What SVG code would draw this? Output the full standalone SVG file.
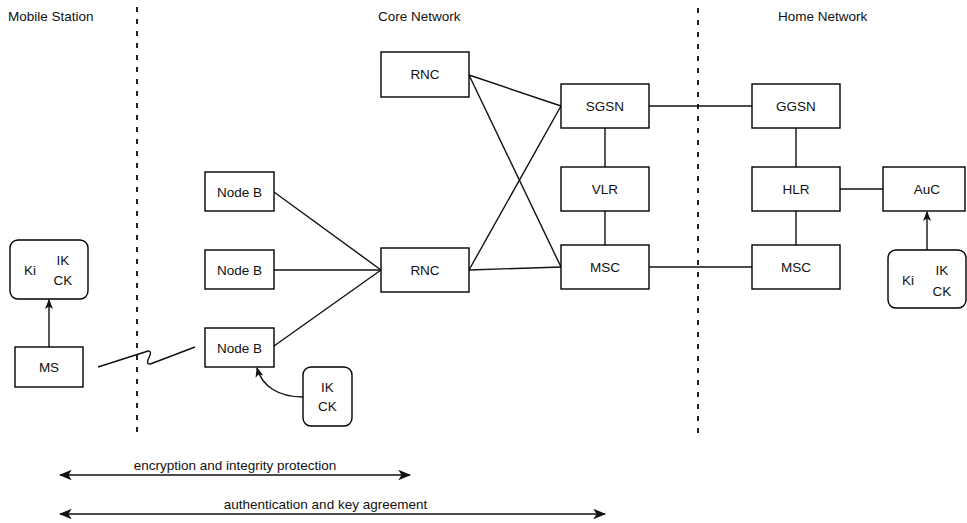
<svg xmlns="http://www.w3.org/2000/svg" width="967" height="523" viewBox="0 0 967 523">
<style>
.box{fill:#fff;stroke:#000;stroke-width:1.4}
.key{fill:#fff;stroke:#000;stroke-width:1.4}
.t{font-family:"Liberation Sans",Arial,sans-serif;font-size:13.5px;fill:#111;text-anchor:middle}
.lbl{font-family:"Liberation Sans",Arial,sans-serif;font-size:13.5px;fill:#111}
.bl{font-family:"Liberation Sans",Arial,sans-serif;font-size:13.5px;fill:#111;text-anchor:middle}
.ln{fill:none;stroke:#111;stroke-width:1.4}
.dash{fill:none;stroke:#222;stroke-width:2;stroke-dasharray:5 7}
</style>
<defs>
<marker id="ah" viewBox="0 0 10 10" refX="9" refY="5" markerWidth="10" markerHeight="10" markerUnits="userSpaceOnUse" orient="auto-start-reverse">
<path d="M0,1 L10,5 L0,9 L2.5,5 Z" fill="#111"/>
</marker>
<marker id="ah2" viewBox="0 0 10 10" refX="9" refY="5" markerWidth="13" markerHeight="13" markerUnits="userSpaceOnUse" orient="auto-start-reverse">
<path d="M0,1 L10,5 L0,9 L2.5,5 Z" fill="#111"/>
</marker>
</defs>
<rect width="967" height="523" fill="#fff"/>
<g id="regions">
<text class="lbl" x="8" y="21">Mobile Station</text>
<text class="lbl" x="378" y="21">Core Network</text>
<text class="lbl" x="778" y="21">Home Network</text>
<line class="dash" x1="137" y1="7" x2="137" y2="435"/>
<line class="dash" x1="698" y1="8" x2="698" y2="435"/>
</g>
<g id="connectors">
<line class="ln" x1="274" y1="192" x2="381" y2="270"/>
<line class="ln" x1="274" y1="270" x2="381" y2="270"/>
<line class="ln" x1="274" y1="346" x2="381" y2="270"/>
<line class="ln" x1="469" y1="75" x2="561" y2="106"/>
<line class="ln" x1="469" y1="75" x2="561" y2="267"/>
<line class="ln" x1="469" y1="270" x2="561" y2="106"/>
<line class="ln" x1="469" y1="270" x2="561" y2="267"/>
<line class="ln" x1="605" y1="128" x2="605" y2="167"/>
<line class="ln" x1="605" y1="211" x2="605" y2="245"/>
<line class="ln" x1="649" y1="106" x2="752" y2="106"/>
<line class="ln" x1="649" y1="267" x2="752" y2="267"/>
<line class="ln" x1="796" y1="128" x2="796" y2="167"/>
<line class="ln" x1="796" y1="211" x2="796" y2="245"/>
<line class="ln" x1="840" y1="189" x2="883" y2="189"/>
<line class="ln" x1="49" y1="347" x2="49" y2="300" marker-end="url(#ah)"/>
<line class="ln" x1="927" y1="250" x2="927" y2="212" marker-end="url(#ah)"/>
<path class="ln" d="M303,397 C278,397 262,386 257,368" marker-end="url(#ah)"/>
<path class="ln" d="M98,367 L145,352 Q152,349 150,355 L148,360 Q146,366 153,363 L195,347"/>
<line class="ln" x1="60" y1="475" x2="410" y2="475" marker-start="url(#ah2)" marker-end="url(#ah2)"/>
<line class="ln" x1="60" y1="514" x2="605" y2="514" marker-start="url(#ah2)" marker-end="url(#ah2)"/>
<text class="bl" x="235" y="470">encryption and integrity protection</text>
<text class="bl" x="325.5" y="509">authentication and key agreement</text>
</g>
<g id="ms-keys"><rect class="key" x="10" y="240" width="78" height="59" rx="8"/><text class="t" x="30" y="275">Ki</text><text class="t" x="63" y="265">IK</text><text class="t" x="63" y="285">CK</text></g>
<g id="ms"><rect class="box" x="15" y="347" width="68" height="40"/><text class="t" x="49" y="372">MS</text></g>
<g id="nodeb1"><rect class="box" x="205" y="172" width="69" height="39"/><text class="t" x="239.5" y="197">Node B</text></g>
<g id="nodeb2"><rect class="box" x="205" y="250" width="69" height="39"/><text class="t" x="239.5" y="275">Node B</text></g>
<g id="nodeb3"><rect class="box" x="205" y="328" width="69" height="39"/><text class="t" x="239.5" y="353">Node B</text></g>
<g id="nb-keys"><rect class="key" x="303" y="367" width="49" height="59" rx="8"/><text class="t" x="327.5" y="392">IK</text><text class="t" x="327.5" y="411">CK</text></g>
<g id="rnc1"><rect class="box" x="381" y="52" width="88" height="45"/><text class="t" x="425" y="79">RNC</text></g>
<g id="rnc2"><rect class="box" x="381" y="248" width="88" height="44"/><text class="t" x="425" y="275">RNC</text></g>
<g id="sgsn"><rect class="box" x="561" y="84" width="88" height="44"/><text class="t" x="605" y="111">SGSN</text></g>
<g id="vlr"><rect class="box" x="561" y="167" width="88" height="44"/><text class="t" x="605" y="194">VLR</text></g>
<g id="msc1"><rect class="box" x="561" y="245" width="88" height="44"/><text class="t" x="605" y="272">MSC</text></g>
<g id="ggsn"><rect class="box" x="752" y="84" width="88" height="44"/><text class="t" x="796" y="111">GGSN</text></g>
<g id="hlr"><rect class="box" x="752" y="167" width="88" height="44"/><text class="t" x="796" y="194">HLR</text></g>
<g id="msc2"><rect class="box" x="752" y="245" width="88" height="44"/><text class="t" x="796" y="272">MSC</text></g>
<g id="auc"><rect class="box" x="883" y="167" width="82" height="44"/><text class="t" x="927" y="194">AuC</text></g>
<g id="auc-keys"><rect class="key" x="888" y="250" width="78" height="58" rx="8"/><text class="t" x="908" y="285">Ki</text><text class="t" x="942" y="275">IK</text><text class="t" x="942" y="296">CK</text></g>
</svg>
